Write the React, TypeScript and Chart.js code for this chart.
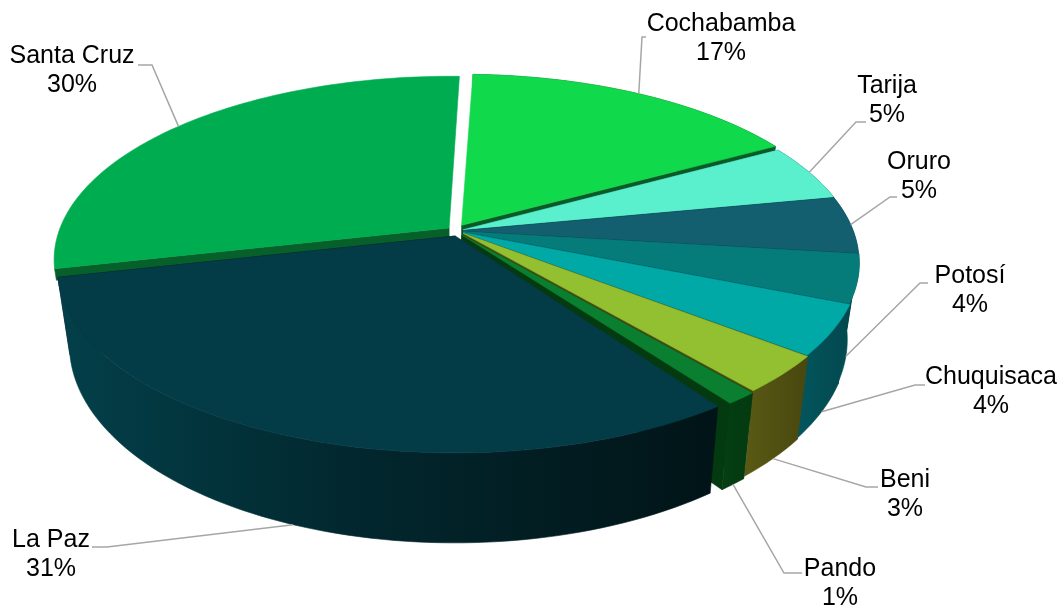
import React, { useEffect, useRef } from "react";
import { Chart, registerables } from "chart.js";

Chart.register(...registerables);

const categories = ["Cochabamba", "Tarija", "Oruro", "Potosí", "Chuquisaca", "Beni", "Pando", "La Paz", "Santa Cruz"];
const values = [16.4, 5.0, 5.0, 4.2, 4.4, 3.3, 1.1, 31.5, 29.1];
const percentLabels = ["17%", "5%", "5%", "4%", "4%", "3%", "1%", "31%", "30%"];
const topColors = ["#10D94B", "#5AF0CE", "#135F70", "#067C7A", "#00A8A6", "#92C030", "#0B7F30", "#033B46", "#00AC50"];
const wallLeft = ["#0A5A26", "#0F4A50", "#0B3C47", "#035254", "#03565E", "#5A5A14", "#053F12", "#03404A", "#07602A"];
const wallMid = ["#0A5A26", "#0F4A50", "#0B3C47", "#024B4E", "#034F56", "#515112", "#043C11", "#02272E", "#07602A"];
const wallRight = ["#0A5A26", "#0F4A50", "#0B3C47", "#024448", "#03484F", "#48480F", "#043A10", "#011417", "#07602A"];
const offsetX = [0.004, 0.008, 0.008, 0.008, 0.008, 0.008, 0.005, -0.012, -0.028];
const offsetU = [-0.06, -0.035, -0.03, -0.025, -0.02, -0.015, -0.005, 0, -0.045];
const trimStart = [0, 0, 0, 0, 0, 0, 0, 0.8, 0];
const trimEnd = [0, 0, 0, 0, 0, 0, 0, 0, 0.5];
const wallHeight = [1, 1, 1, 1, 1, 1, 1, 1, 0.15];
const paintOrder = [0, 8, 1, 2, 3, 4, 5, 6, 7];
const hiddenStartWall = [true, false, false, false, false, false, false, true, false];
const hiddenEndWall = [false, false, false, false, false, true, false, false, true];
const hiddenOuterWall = [false, false, false, false, false, false, false, false, true];
const labelCentres = [[721, 24], [887, 86], [919, 162], [970, 276], [991, 377], [905, 480], [840, 569], [51, 540], [72, 56]];
const elbows = [[[642, 37], [646, 37]], [[856, 122], [866, 122]], [[890, 197], [897, 197]], [[920, 283], [928, 283]], [[915, 385], [925, 385]], [[866, 487], [878, 487]], [[784, 573], [802, 573]], [[107, 547], [92, 547]], [[152, 65], [138, 65]]];
const anchorDepth = [0, 0, 0, 1, 1, 1, 1, 1, 0];

const CX = 460, CY = 236, A = 392, B = 180, K = 0.17, D = 74.7, SHRINK = 0.03;

function project(t: number, r: number, h: number, dx: number, du: number) {
  const X = Math.sin(t) * r + dx;
  const u = -Math.cos(t) * r + du;
  const den = 1 - K * u;
  return { x: CX + (A * X) / den * (1 - SHRINK * h), y: CY + (B * u) / den + (h * D) / den };
}

const pie3d = {
  id: "pie3d",
  beforeDatasetsDraw(chart: any) {
    const ctx = chart.ctx;
    const meta = chart.getDatasetMeta(0);
    const deg = Math.PI / 180;
    const slices = meta.data.map((arc: any, i: number) => {
      const s = arc.startAngle + Math.PI / 2 + trimStart[i] * deg;
      const e = arc.endAngle + Math.PI / 2 - trimEnd[i] * deg;
      return { s, e, m: (s + e) / 2, dx: offsetX[i], du: offsetU[i] };
    });
    const rim = (sl: any, h: number, reverse = false) => {
      const n = Math.max(8, Math.ceil((sl.e - sl.s) / deg / 1.5));
      const pts = [];
      for (let j = 0; j <= n; j++) {
        const t = sl.s + ((sl.e - sl.s) * (reverse ? n - j : j)) / n;
        pts.push(project(t, 1, h, sl.dx, sl.du));
      }
      return pts;
    };
    const fillPath = (pts: any[], fill: any) => {
      ctx.beginPath();
      pts.forEach((p, j) => (j ? ctx.lineTo(p.x, p.y) : ctx.moveTo(p.x, p.y)));
      ctx.closePath();
      ctx.fillStyle = fill;
      ctx.fill();
      ctx.strokeStyle = fill;
      ctx.lineWidth = 0.6;
      ctx.stroke();
    };
    paintOrder.forEach((i) => {
      const sl = slices[i];
      const h = wallHeight[i];
      const c0 = project(0, 0, 0, sl.dx, sl.du);
      const c1 = project(0, 0, h, sl.dx, sl.du);
      const top = rim(sl, 0);
      const bottom = rim(sl, h, true);
      if (!hiddenStartWall[i]) fillPath([c0, top[0], bottom[bottom.length - 1], c1], wallRight[i]);
      if (!hiddenEndWall[i]) fillPath([c0, top[top.length - 1], bottom[0], c1], wallRight[i]);
      if (!hiddenOuterWall[i]) {
        const xs = top.concat(bottom).map((p: any) => p.x);
        const g = ctx.createLinearGradient(Math.min(...xs), 0, Math.max(...xs), 0);
        g.addColorStop(0, wallLeft[i]);
        g.addColorStop(0.45, wallMid[i]);
        g.addColorStop(1, wallRight[i]);
        fillPath(top.concat(bottom), g);
      }
      fillPath([c0, ...top], topColors[i]);
    });
    ctx.textAlign = "center";
    ctx.textBaseline = "middle";
    ctx.font = '25px "Liberation Sans"';
    categories.forEach((name, i) => {
      const sl = slices[i];
      const a = project(sl.m, 1, anchorDepth[i], sl.dx, sl.du);
      ctx.beginPath();
      ctx.moveTo(a.x, a.y);
      elbows[i].forEach((p) => ctx.lineTo(p[0], p[1]));
      ctx.strokeStyle = "#A6A6A6";
      ctx.lineWidth = 1.5;
      ctx.stroke();
      ctx.fillStyle = "#000000";
      ctx.fillText(name, labelCentres[i][0], labelCentres[i][1]);
      ctx.fillText(percentLabels[i], labelCentres[i][0], labelCentres[i][1] + 29);
    });
    return false;
  },
};

export default function App() {
  const ref = useRef<HTMLCanvasElement | null>(null);
  useEffect(() => {
    document.body.style.margin = "0";
    const chart = new Chart(ref.current as HTMLCanvasElement, {
      type: "pie",
      data: { labels: categories, datasets: [{ data: values, backgroundColor: topColors, borderWidth: 0 }] },
      options: {
        animation: false,
        responsive: false,
        rotation: 2,
        plugins: { legend: { display: false }, tooltip: { enabled: false } },
      },
      plugins: [pie3d],
    } as any);
    return () => chart.destroy();
  }, []);
  return (
    <div style={{ width: 1062, height: 607, background: "#fff" }}>
      <canvas ref={ref} width={1062} height={607} style={{ display: "block" }} />
    </div>
  );
}
